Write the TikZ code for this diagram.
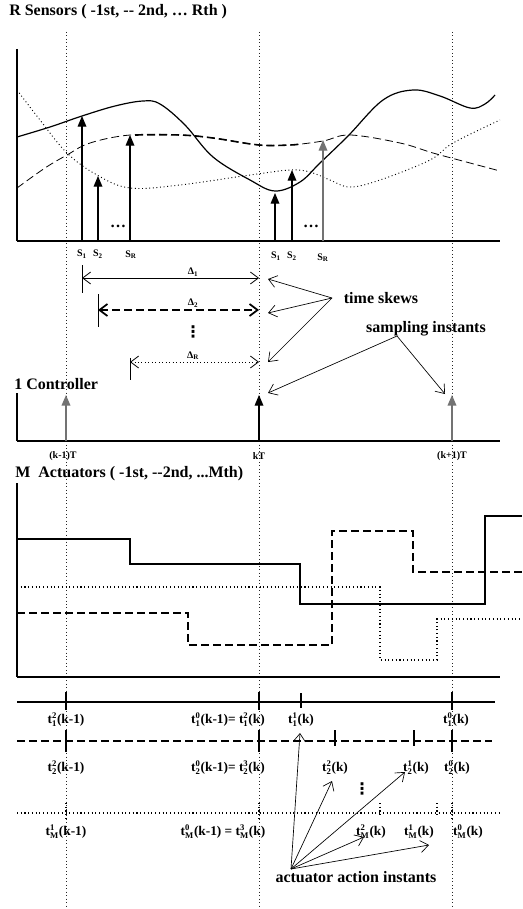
\documentclass[tikz,border=0pt]{standalone}
\usepackage{fontspec}
\setmainfont{Liberation Serif}
\newfontfamily\dvfont{DejaVu Sans}
\usetikzlibrary{arrows.meta}
\newcommand{\tsz}[1]{\mbox{\fontsize{6.5}{6.5}\selectfont\bfseries #1}}
\newcommand{\tlab}[2]{t$^{\tsz{#1}}_{\tsz{#2}}$}
\begin{document}
\begin{tikzpicture}[x=0.75pt,y=-0.75pt,
  vline/.style={dotted, line width=0.6pt, black!85},
  axis/.style={line width=1.5pt},
  vaxis/.style={line width=1pt},
  samp/.style={-{Triangle[width=6.5pt,length=8pt]}, line width=0.9pt},
  barb/.style={-{Straight Barb[length=6pt,width=9pt]}, line width=0.5pt},
  dbl/.style={{Straight Barb[length=6pt,width=9pt]}-{Straight Barb[length=6pt,width=9pt]}},
  big/.style={font=\bfseries\fontsize{12}{14}\selectfont, inner sep=0pt},
  tl/.style={font=\bfseries\fontsize{10}{12}\selectfont, inner sep=0pt},
  small/.style={font=\bfseries\fontsize{7.5}{9}\selectfont, inner sep=0pt},
  vdotsty/.style={font=\dvfont\bfseries\fontsize{12}{14}\selectfont, inner sep=0pt},
  thdash/.style={line width=1.5pt, dash pattern=on 6pt off 3pt},
  dots/.style={dotted, line width=0.8pt},
]
\useasboundingbox[fill=white] (0,0) rectangle (522,909);

% vertical sampling lines
\foreach \x in {66,259,452} \draw[vline] (\x,32) -- (\x,909);

% ---------- sensors ----------
\node[big, anchor=west] (t1) at (9,12) {R Sensors ( -1st, -{}- 2nd, … Rth )};
\draw[vaxis] (17,49) -- (17,241);
\draw[axis] (17,241) -- (500,241);

% solid curve
\draw[line width=0.9pt] plot[smooth, tension=0.6] coordinates {(17,137) (50,127) (82,116) (115,106) (143,101) (160,104) (185,125) (213,157) (250,180) (275,191) (300,182) (320,163) (348,136) (383,100) (413,90) (440,96) (470,108) (485,104) (495,95)};
% dashed curve
\draw[line width=0.6pt, dash pattern=on 6pt off 3pt] plot[smooth, tension=0.6] coordinates {(17,188) (45,168) (67,155) (90,143) (130,135) (180,135) (213,138) (259,145) (290,145) (323,141) (350,135) (400,143) (433,153) (470,163) (500,171)};
\draw[line width=1.2pt, dash pattern=on 6pt off 3pt] plot[smooth, tension=0.6] coordinates {(135,135) (180,135) (213,138) (259,145) (290,145) (300,144)};
% dotted curve
\draw[dotted, line width=0.7pt] plot[smooth, tension=0.6] coordinates {(17,90) (40,120) (67,153) (97,175) (130,188) (180,185) (250,175) (290,170) (310,172) (330,180) (350,187) (380,180) (430,160) (453,143) (500,120)};

% sampling arrows
\draw[samp] (82,241) -- (82,116);
\draw[samp] (98,241) -- (98,176);
\draw[samp] (130,241) -- (130,135);
\draw[samp] (275,241) -- (275,193);
\draw[samp] (292,241) -- (292,170);
\draw[samp, black!55] (323,241) -- (323,140);
\node[big] (e1) at (118,226) {…};
\node[big] (e2) at (311,226) {…};

% S labels
\node[small] (a1) at (82,254) {S\textsubscript{1}};
\node[small] (a2) at (98,254) {S\textsubscript{2}};
\node[small] (a3) at (131,255) {S\textsubscript{R}};
\node[small] (b1) at (276,256) {S\textsubscript{1}};
\node[small] (b2) at (292,256) {S\textsubscript{2}};
\node[small] (b3) at (323,258) {S\textsubscript{R}};

% time skew intervals
\draw[line width=0.6pt] (82,265) -- (82,293);
\draw[line width=0.6pt] (98,294) -- (98,327);
\draw[line width=0.6pt] (130,358) -- (130,380);
\coordinate (d1l) at (82,278);  \coordinate (d1r) at (259,278);
\coordinate (d2l) at (98,310);  \coordinate (d2r) at (259,310);
\coordinate (drl) at (130,362); \coordinate (drr) at (259,362);
\draw[dbl, line width=0.6pt] (d1l) -- (d1r);
\draw[dbl, thdash, line width=1.3pt] (d2l) -- (d2r);
\draw[dbl, dotted, line width=0.6pt] (drl) -- (drr);
\node[small] (D1) at (193,272) {Δ\textsubscript{1}};
\node[small] (D2) at (193,303) {Δ\textsubscript{2}};
\node[small] (DR) at (193,356) {Δ\textsubscript{R}};
\node[vdotsty] (vd1) at (193,332) {⋮};

% time skews label
\node[big] (ts) at (381,298) {time skews};
\coordinate (tso) at (332,298);
\coordinate (ts1) at (268,279);
\coordinate (ts2) at (268,313);
\coordinate (ts3) at (268,362);
\draw[barb] (tso) -- (ts1);
\draw[barb] (tso) -- (ts2);
\draw[barb] (tso) -- (ts3);

% sampling instants
\node[big] (si) at (426,329) {sampling instants};
\coordinate (sio) at (397,336);
\coordinate (si1) at (268,393);
\coordinate (si2) at (445,394);
\draw[barb] (sio) -- (si1);
\draw[barb] (sio) -- (si2);

% ---------- controller ----------
\node[big, anchor=west] (c1) at (14,384) {1 Controller};
\draw[vaxis] (17,393) -- (17,441);
\draw[axis] (17,441) -- (500,441);
\draw[samp, black!55, line width=1.2pt] (66,441) -- (66,395);
\draw[samp] (259,441) -- (259,395);
\draw[samp, black!55, line width=1.2pt] (452,441) -- (452,395);
\node[small] (k0) at (63,456) {(k-1)T};
\node[small] (k1) at (259,456) {kT};
\node[small] (k2) at (452,456) {(k+1)T};

% ---------- actuators ----------
\node[big, anchor=west] (m1) at (15,474) {M~~Actuators ( -1st, -{}-2nd, ...Mth)};
\draw[vaxis] (17,483) -- (17,677);
\draw[axis] (17,677) -- (500,677);
\draw[line width=0.9pt] (17,539) -- (130,539) -- (130,564) -- (300,564) -- (300,604) -- (485,604) -- (485,516) -- (522,516);
\draw[thdash] (17,613) -- (188,613) -- (188,645) -- (332,645) -- (332,531) -- (413,531) -- (413,572) -- (522,572);
\draw[dots] (17,587) -- (380,587) -- (380,660) -- (437,660) -- (437,619) -- (522,619);

% ---------- action timelines ----------
\draw[line width=0.8pt] (17,702) -- (495,702);
\draw[thdash] (17,741) -- (492,741);
\draw[dots] (17,813) -- (500,813);
% ticks line 1
\foreach \x in {66,259,452} \draw[line width=1pt] (\x,692) -- (\x,710);
\draw[line width=1pt] (301,693) -- (301,708);
% ticks line 2
\foreach \x in {66,259,452} \draw[line width=1.3pt] (\x,730) -- (\x,752);
\foreach \x in {335,414} \draw[line width=1.3pt] (\x,730) -- (\x,746);
% ticks line 3
\foreach \x in {66,259,452} \draw[dots] (\x,803) -- (\x,819);
\foreach \x in {380,437} \draw[dots] (\x,803) -- (\x,817);

% labels row 1
\node[tl] (r1a) at (66,720) {\tlab{2}{1}(k-1)};
\node[tl] (r1b) at (228,720) {\tlab{0}{1}(k-1)= \tlab{2}{1}(k)};
\node[tl] (r1c) at (301,720) {\tlab{1}{1}(k)};
\node[tl] (r1d) at (456,720) {\tlab{0}{1}(k)};
% labels row 2
\node[tl] (r2a) at (66,768) {\tlab{2}{2}(k-1)};
\node[tl] (r2b) at (228,768) {\tlab{0}{2}(k-1)= \tlab{3}{2}(k)};
\node[tl] (r2c) at (335,768) {\tlab{2}{2}(k)};
\node[tl] (r2d) at (416,768) {\tlab{1}{2}(k)};
\node[tl] (r2e) at (457,768) {\tlab{0}{2}(k)};
\node[vdotsty] (vd2) at (362,789) {⋮};
% labels row 3
\node[tl] (r3a) at (66,832) {\tlab{1}{M}(k-1)};
\node[tl] (r3b) at (223,832) {\tlab{0}{M}(k-1) = \tlab{3}{M}(k)};
\node[tl] (r3c) at (371,832) {\tlab{2}{M}(k)};
\node[tl] (r3d) at (419,832) {\tlab{1}{M}(k)};
\node[tl] (r3e) at (468,832) {\tlab{0}{M}(k)};

% actuator action instants
\node[big] (aai) at (356,877) {actuator action instants};
\coordinate (ao) at (291,869);
\coordinate (aa1) at (300,733);
\coordinate (aa2) at (332,781);
\coordinate (aa3) at (405,772);
\coordinate (aa4) at (364,837);
\coordinate (aa5) at (429,845);
\foreach \t in {aa1,aa2,aa3,aa4,aa5} \draw[barb] (ao) -- (\t);
\end{tikzpicture}
\end{document}
